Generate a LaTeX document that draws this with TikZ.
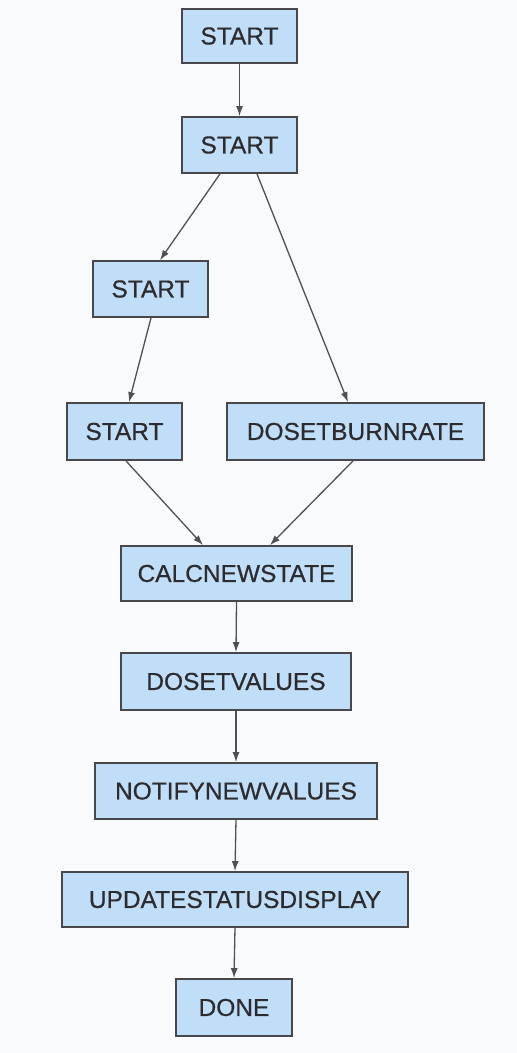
\documentclass[tikz,border=0pt]{standalone}
\usepackage{fontspec}
\setmainfont{Liberation Sans}
\newfontfamily\boxfont[FakeBold=0.6]{Liberation Sans}
\usetikzlibrary{arrows.meta}
\definecolor{boxfill}{RGB}{192,222,247}
\definecolor{boxline}{RGB}{72,72,76}
\definecolor{boxtext}{RGB}{44,44,48}
\definecolor{flowline}{RGB}{80,80,84}
\definecolor{paper}{RGB}{248,250,252}
\begin{document}
\begin{tikzpicture}[
  x=1pt, y=-1pt,
  procbox/.style={draw=boxline, line width=1.8pt, fill=boxfill, text=boxtext,
    font=\boxfont\fontsize{24.5}{28}\selectfont, inner sep=0pt, anchor=center},
  flow/.style={draw=flowline, line width=1.3pt,
    -{Latex[length=10pt,width=7pt]}}
]
% page
\fill[paper] (0,0) rectangle (517,1053);
\useasboundingbox (0,0) rectangle (517,1053);

% process boxes
\node[procbox, minimum width=115pt, minimum height=54pt] (b1) at (239.5,36) {START};
\node[procbox, minimum width=115pt, minimum height=56pt] (b2) at (239.5,145) {START};
\node[procbox, minimum width=115pt, minimum height=56pt] (b3) at (150.5,289) {START};
\node[procbox, minimum width=115pt, minimum height=57pt] (b4) at (124.5,431.5) {START};
\node[procbox, minimum width=257pt, minimum height=57pt] (b5) at (355.5,431.5) {DOSETBURNRATE};
\node[procbox, minimum width=231pt, minimum height=55pt] (b6) at (236.5,573.5) {CALCNEWSTATE};
\node[procbox, minimum width=230pt, minimum height=57pt] (b7) at (236,681.5) {DOSETVALUES};
\node[procbox, minimum width=282pt, minimum height=56pt] (b8) at (236,791) {NOTIFYNEWVALUES};
\node[procbox, minimum width=346pt, minimum height=55pt] (b9) at (235,899.5) {UPDATESTATUSDISPLAY};
\node[procbox, minimum width=116pt, minimum height=57pt] (b10) at (234,1007.5) {DONE};

% connectors
\draw[flow] (b1.south) -- (b2.north);
\draw[flow] ([xshift=-19.5pt]b2.south) -- ([xshift=9.5pt]b3.north);
\draw[flow] ([xshift=17.5pt]b2.south) -- ([xshift=-7.5pt]b5.north);
\draw[flow] ([xshift=0.5pt]b3.south) -- ([xshift=4.5pt]b4.north);
\draw[flow] ([xshift=1.5pt]b4.south) -- ([xshift=-33.5pt]b6.north);
\draw[flow] ([xshift=-2.5pt]b5.south) -- ([xshift=33.5pt]b6.north);
\draw[flow] (b6.south) -- (b7.north);
\draw[flow] (b7.south) -- (b8.north);
\draw[flow] (b8.south) -- (b9.north);
\draw[flow] (b9.south) -- (b10.north);
\end{tikzpicture}
\end{document}
